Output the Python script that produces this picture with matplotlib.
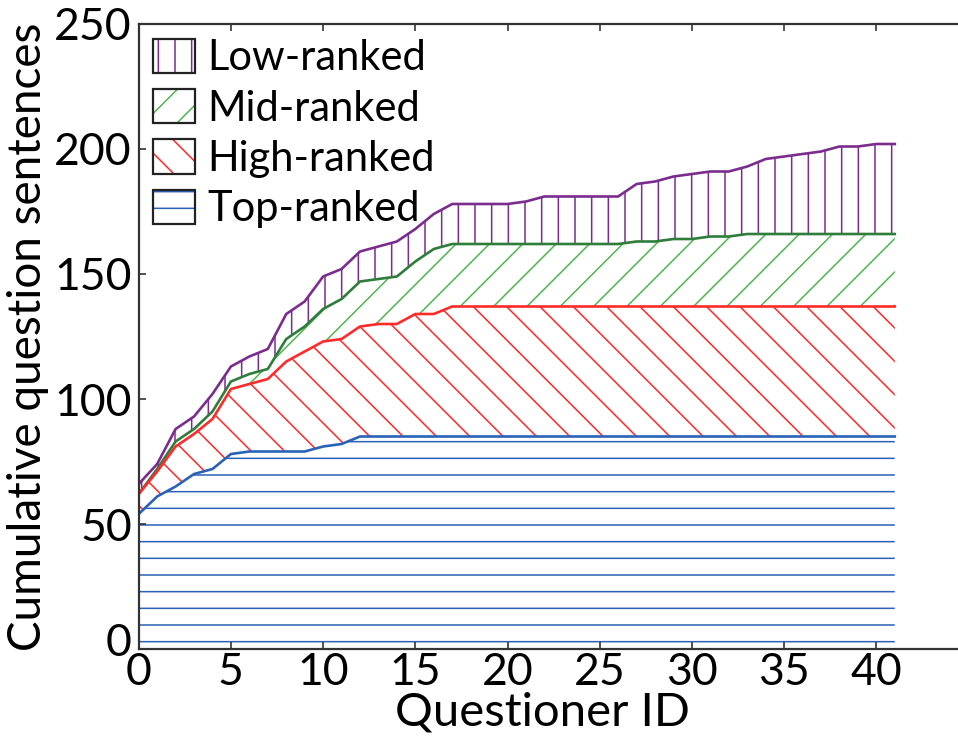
import numpy as np
import matplotlib
matplotlib.use('Agg')
import matplotlib.pyplot as plt
import matplotlib.transforms as mtransforms
from matplotlib.patches import Patch

plt.rcParams['font.family'] = ['Lato', 'DejaVu Sans']
plt.rcParams['hatch.linewidth'] = 1.1

# questioner index, cumulative question sentences (stacked boundaries)
questioner = np.arange(0, 42)
top_ranked = [54, 61, 65, 70, 72, 78, 79, 79, 79, 79, 81, 82] + [85] * 30
high_ranked = [62, 71, 81, 86, 92, 104, 106, 108, 115, 119, 123, 124, 129, 130, 130, 134, 134] + [137] * 25
mid_ranked = ([62, 72, 83, 88, 95, 107, 110, 112, 124, 129, 136, 140, 147, 148, 149, 155, 160]
              + [162] * 10 + [163, 163, 164, 164, 165, 165] + [166] * 9)
low_ranked = [66, 74, 88, 93, 102, 113, 117, 120, 134, 139, 149, 152, 159, 161, 163, 168, 174,
              178, 178, 178, 178, 179, 181, 181, 181, 181, 181, 186, 187, 189, 190, 191, 191,
              193, 196, 197, 198, 199, 201, 201, 202, 202]

labels = ['Low-ranked', 'Mid-ranked', 'High-ranked', 'Top-ranked']
hatch_colors = ['#7b2d8e', '#4cb84c', '#ff2a2a', '#2a62b8']
line_colors = ['#7b2d8e', '#2e7d3a', '#ff2a2a', '#2a62b8']
hatches = ['|', '/', '\\', '-']

fig = plt.figure(figsize=(9.58, 7.36), dpi=100)
ax = fig.add_axes([0.1448, 0.1182, 0.8662, 0.8492])

uppers = [low_ranked, mid_ranked, high_ranked, top_ranked]
lowers = [mid_ranked, high_ranked, top_ranked, [0] * len(questioner)]

for up, lo, hc, h in zip(uppers, lowers, hatch_colors, hatches):
    ax.fill_between(questioner, lo, up, facecolor='white', edgecolor=hc, hatch=h, linewidth=0)

for up, lc in zip(uppers, line_colors):
    ax.plot(questioner, up, color=lc, linewidth=1.9, solid_joinstyle='round')

ax.set_xlim(0, 45)
ax.set_ylim(0, 250)
ax.set_xticks(range(0, 41, 5))
ax.set_yticks(range(0, 251, 50))
ax.tick_params(direction='in', top=True, right=True, length=5, width=1.2,
               labelsize=32, color='#333333', pad=5)
ax.tick_params(axis='x', pad=2)
for s in ax.spines.values():
    s.set_color('#333333')
    s.set_linewidth(1.6)

# the "0" on the y axis sits a little above its tick in the original
fig.canvas.draw()
ylabels0 = ax.get_yticklabels()
ylabels0[0].set_transform(ylabels0[0].get_transform() +
                          mtransforms.ScaledTranslation(0, 10 / 100, fig.dpi_scale_trans))

ax.set_xlabel('Questioner ID', fontsize=34)
ax.xaxis.set_label_coords(0.486, -0.122, transform=ax.transAxes)
ax.xaxis.label.set_va('baseline')
ax.set_ylabel('Cumulative question sentences', fontsize=33, labelpad=4)

handles = [(Patch(facecolor='white', edgecolor=hc, hatch=h, linewidth=0),
            Patch(facecolor='none', edgecolor='#222222', linewidth=1.6))
           for hc, h in zip(hatch_colors, hatches)]
ax.legend(handles, labels, loc='upper left', frameon=False, fontsize=30,
          handlelength=1.0, handleheight=0.9, handletextpad=0.3,
          labelspacing=0.28, borderaxespad=0.15, borderpad=0.2)

fig.savefig('out.png', dpi=100)
